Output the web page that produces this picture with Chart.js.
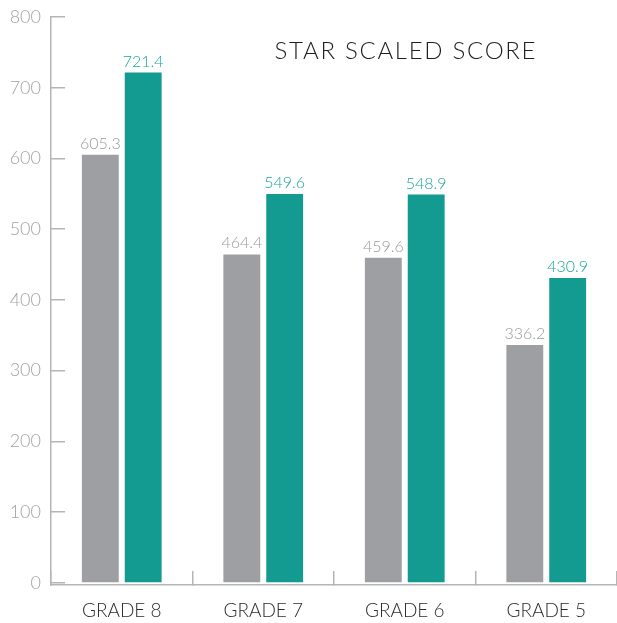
<!DOCTYPE html>
<html>
<head>
<meta charset="utf-8">
<script src="https://cdn.jsdelivr.net/npm/chart.js@4.4.1/dist/chart.umd.min.js"></script>
<style>
  html, body { margin: 0; padding: 0; background: #fff; }
  #wrap { width: 617px; height: 623px; }
</style>
</head>
<body>
<div id="wrap"><canvas id="scoreChart"></canvas></div>
<script>
// Chart data
const grades = ['GRADE 8', 'GRADE 7', 'GRADE 6', 'GRADE 5'];
const scoresGray = [605.3, 464.4, 459.6, 336.2];
const scoresTeal = [721.4, 549.6, 548.9, 430.9];
const yTickValues = [0, 100, 200, 300, 400, 500, 600, 700, 800];
const chartTitle = 'STAR SCALED SCORE';

const colors = {
    gray: '#9e9fa3',
    grayText: '#9a9a9a',
    teal: '#139a91',
    tealText: '#1ba69b',
    axis: '#b5b5b5',
    tick: '#a3a3a3',
    label: '#2b2b2b'
};
const fontFamily = "Lato, 'Open Sans', sans-serif";

// value labels above each bar
const valueLabels = {
    id: 'valueLabels',
    afterDatasetsDraw(chart) {
        const ctx = chart.ctx;
        ctx.save();
        ctx.font = '300 16px ' + fontFamily;
        ctx.textAlign = 'center';
        ctx.textBaseline = 'alphabetic';
        chart.data.datasets.forEach((ds, i) => {
            chart.getDatasetMeta(i).data.forEach((bar, j) => {
                ctx.fillStyle = ds.labelColor;
                ctx.fillText(ds.data[j].toFixed(1), bar.x, bar.y - 6);
            });
        });
        ctx.restore();
    }
};

// title sits inside the plot area
const insideTitle = {
    id: 'insideTitle',
    afterDraw(chart) {
        const { ctx, chartArea } = chart;
        ctx.save();
        ctx.font = '300 24px ' + fontFamily;
        ctx.letterSpacing = '1.7px';
        ctx.fillStyle = '#1e1e1e';
        ctx.textAlign = 'center';
        ctx.fillText(chartTitle, chartArea.left + chartArea.width * 0.627, chartArea.top + 42);
        ctx.restore();
    }
};

new Chart(document.getElementById('scoreChart'), {
    type: 'bar',
    data: {
        labels: grades,
        datasets: [
            { data: scoresGray, backgroundColor: colors.gray, labelColor: colors.grayText },
            { data: scoresTeal, backgroundColor: colors.teal, labelColor: colors.tealText }
        ]
    },
    options: {
        responsive: true,
        maintainAspectRatio: false,
        animation: false,
        categoryPercentage: 0.606,
        barPercentage: 0.86,
        layout: { padding: { left: 9, right: 0, top: 17, bottom: 1 } },
        scales: {
            x: {
                offset: true,
                afterFit: (scale) => {
                    scale.height = 37;
                    scale.paddingLeft = 0;
                    scale.paddingRight = 0;
                },
                grid: { offset: true, drawOnChartArea: false, tickLength: -14, color: colors.axis, lineWidth: 1.5 },
                border: { color: colors.axis, width: 1.5 },
                ticks: { color: colors.label, padding: 28, font: { family: fontFamily, size: 19, weight: '300' } }
            },
            y: {
                min: -3,
                max: 800,
                afterFit: (scale) => {
                    scale.width = 42;
                    scale.paddingTop = 0;
                    scale.paddingBottom = 0;
                },
                afterBuildTicks: (scale) => { scale.ticks = yTickValues.map(v => ({ value: v })); },
                grid: { drawOnChartArea: false, tickLength: -14, color: colors.axis, lineWidth: 1.5 },
                border: { color: colors.axis, width: 1.5 },
                ticks: { color: colors.tick, padding: 24, font: { family: fontFamily, size: 18, weight: '300' } }
            }
        },
        plugins: {
            legend: { display: false },
            tooltip: { enabled: false }
        }
    },
    plugins: [valueLabels, insideTitle]
});
</script>
</body>
</html>
